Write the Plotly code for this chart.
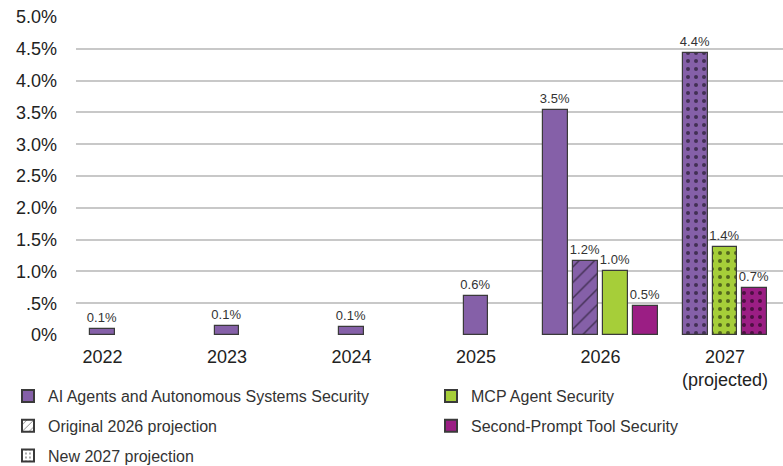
import plotly.graph_objects as go

# Categories and values (percent)
years = ["2022", "2023", "2024", "2025", "2026", "2027<br>(projected)"]

ai_years = ["2022", "2023", "2024", "2025", "2026"]
ai_security = [0.1, 0.14, 0.12, 0.62, 3.54]
ai_original_2026 = [1.16]
ai_new_2027 = [4.44]
mcp_2026 = [1.0]
mcp_2027 = [1.38]
second_prompt_2026 = [0.46]
second_prompt_2027 = [0.74]

y_ticks = [0, 0.5, 1.0, 1.5, 2.0, 2.5, 3.0, 3.5, 4.0, 4.5, 5.0]
y_tick_text = ["0%", ".5%", "1.0%", "1.5%", "2.0%", "2.5%", "3.0%", "3.5%", "4.0%", "4.5%", "5.0%"]

PURPLE = "#8560A8"
GREEN = "#A6CE39"
MAGENTA = "#9B1E84"
EDGE = "#3a3a3a"
FONT = "Liberation Sans, Arial, sans-serif"

BAR_W = 0.2
BAR_GAP = 0.04


def slot_offset(n, k):
    """Left offset of bar k in a cluster of n bars centred on the category."""
    total = n * BAR_W + (n - 1) * BAR_GAP
    return -total / 2 + k * (BAR_W + BAR_GAP)


def bars(x, y, color, offsets, pattern=""):
    pat = dict(shape=pattern)
    if pattern:
        pat.update(fgcolor="#000000", bgcolor=color, fillmode="overlay",
                   size=8 if pattern == "." else 11,
                   solidity=0.2 if pattern == "." else 0.13)
    return go.Bar(
        x=x, y=y,
        width=[BAR_W] * len(x), offset=offsets,
        marker=dict(color=color, line=dict(color=EDGE, width=1.2), pattern=pat),
        texttemplate="%{y:.1f}%", textposition="outside",
        textfont=dict(family=FONT, size=13, color="#333333"),
        constraintext="none", cliponaxis=False,
        showlegend=False, hoverinfo="x+y",
    )


fig = go.Figure()

# 2022-2025 single bars, 2026 leftmost of a four-bar cluster
ai_offsets = [slot_offset(1, 0)] * 4 + [slot_offset(4, 0)]
fig.add_trace(bars(ai_years, ai_security, PURPLE, ai_offsets))
fig.add_trace(bars(["2026"], ai_original_2026, PURPLE, [slot_offset(4, 1)], pattern="/"))
fig.add_trace(bars(["2026"], mcp_2026, GREEN, [slot_offset(4, 2)]))
fig.add_trace(bars(["2026"], second_prompt_2026, MAGENTA, [slot_offset(4, 3)]))

# 2027 projected three-bar cluster
fig.add_trace(bars([years[5]], ai_new_2027, PURPLE, [slot_offset(3, 0)], pattern="."))
fig.add_trace(bars([years[5]], mcp_2027, GREEN, [slot_offset(3, 1)], pattern="."))
fig.add_trace(bars([years[5]], second_prompt_2027, MAGENTA, [slot_offset(3, 2)], pattern="."))


def legend_key(name, color, legend, group, pattern=""):
    pat = dict(shape=pattern)
    if pattern:
        pat.update(fgcolor="#111111", bgcolor=color, fillmode="overlay",
                   size=5 if pattern == "." else 6, solidity=0.18 if pattern == "." else 0.2)
    return go.Bar(
        x=[None], y=[None], name=name, legend=legend, legendgroup=group,
        marker=dict(color=color, line=dict(color=EDGE, width=1), pattern=pat),
        showlegend=True,
    )


fig.add_trace(legend_key("AI Agents and Autonomous Systems Security", PURPLE, "legend", "a"))
fig.add_trace(legend_key("Original 2026 projection", "#ffffff", "legend", "b", "/"))
fig.add_trace(legend_key("New 2027 projection", "#ffffff", "legend", "c", "."))
fig.add_trace(legend_key("MCP Agent Security", GREEN, "legend2", "d"))
fig.add_trace(legend_key("Second-Prompt Tool Security", MAGENTA, "legend2", "e"))

legend_style = dict(
    orientation="v", yanchor="top", xanchor="left",
    xref="container", yref="container",
    font=dict(family=FONT, size=16, color="#333333"),
    bgcolor="rgba(0,0,0,0)", tracegroupgap=6, itemsizing="constant",
    traceorder="grouped",
)

fig.update_layout(
    width=783, height=466,
    margin=dict(l=76, r=0, t=17, b=131, autoexpand=False),
    paper_bgcolor="white", plot_bgcolor="white",
    barmode="overlay",
    bargap=0,
    font=dict(family=FONT, color="#222222"),
    xaxis=dict(
        type="category", categoryorder="array", categoryarray=years,
        range=[-0.213, 5.466], showgrid=False, showline=False, zeroline=False,
        ticks="", tickfont=dict(family=FONT, size=18, color="#222222"),
        ticklabelstandoff=9, automargin=False,
    ),
    yaxis=dict(
        range=[0, 5], tickvals=y_ticks, ticktext=y_tick_text,
        showgrid=True, gridcolor="#c8c8c8", gridwidth=1.5,
        zeroline=False, showline=False, ticks="",
        tickfont=dict(family=FONT, size=18, color="#222222"),
        ticklabelstandoff=18, automargin=False,
    ),
    legend=dict(x=8 / 783, y=1 - 379 / 466, **legend_style),
    legend2=dict(x=431 / 783, y=1 - 379 / 466, **legend_style),
)

fig.write_html("out.html")
